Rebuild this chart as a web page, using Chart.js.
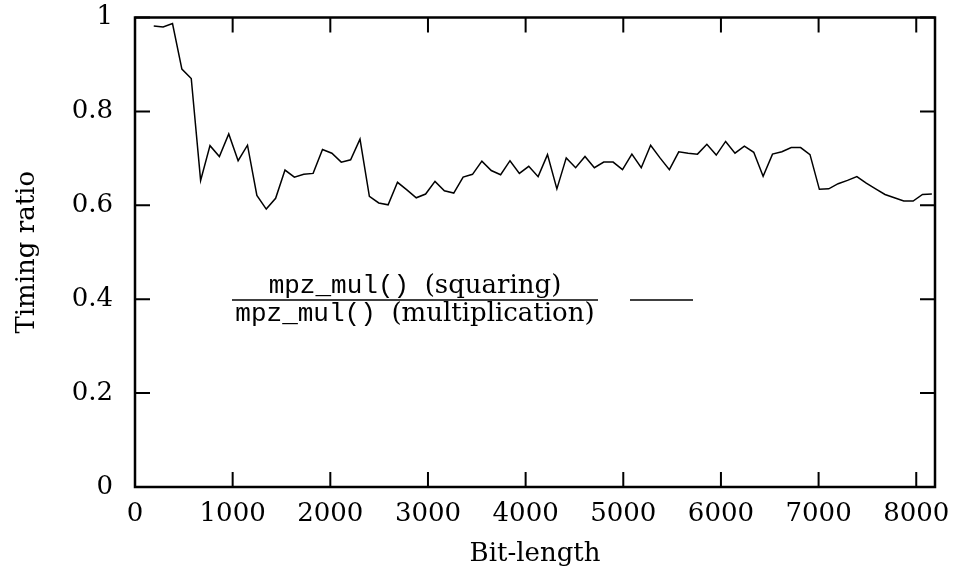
<!DOCTYPE html>
<html>
<head>
<meta charset="utf-8">
<script src="https://cdn.jsdelivr.net/npm/chart.js@4"></script>
<style>
  html, body { margin: 0; padding: 0; background: #fff; }
</style>
</head>
<body>
<canvas id="myChart" width="955" height="570"></canvas>
<script>
const bitLengths = [
  192, 288, 384, 480, 576, 672, 768, 864, 960, 1056, 1152, 1248, 1344, 1440,
  1536, 1632, 1728, 1824, 1920, 2016, 2112, 2208, 2304, 2400, 2496, 2592,
  2688, 2784, 2880, 2976, 3072, 3168, 3264, 3360, 3456, 3552, 3648, 3744,
  3840, 3936, 4032, 4128, 4224, 4320, 4416, 4512, 4608, 4704, 4800, 4896,
  4992, 5088, 5184, 5280, 5376, 5472, 5568, 5664, 5760, 5856, 5952, 6048,
  6144, 6240, 6336, 6432, 6528, 6624, 6720, 6816, 6912, 7008, 7104, 7200,
  7296, 7392, 7488, 7584, 7680, 7776, 7872, 7968, 8064, 8160
];
const timingRatio = [
  0.982, 0.980, 0.987, 0.890, 0.870, 0.653, 0.727, 0.704, 0.752, 0.695, 0.728, 0.621, 0.592, 0.615,
  0.675, 0.660, 0.666, 0.668, 0.719, 0.711, 0.692, 0.697, 0.741, 0.619, 0.605, 0.601,
  0.649, 0.633, 0.616, 0.624, 0.651, 0.631, 0.626, 0.660, 0.666, 0.694, 0.674, 0.665,
  0.695, 0.668, 0.683, 0.661, 0.708, 0.635, 0.701, 0.680, 0.704, 0.680, 0.692, 0.692,
  0.676, 0.709, 0.680, 0.728, 0.701, 0.676, 0.714, 0.711, 0.709, 0.730, 0.707, 0.736,
  0.711, 0.726, 0.713, 0.662, 0.709, 0.714, 0.723, 0.723, 0.708, 0.634, 0.635, 0.646,
  0.653, 0.661, 0.647, 0.635, 0.623, 0.616, 0.609, 0.609, 0.623, 0.624
];
const xTicks = [0, 1000, 2000, 3000, 4000, 5000, 6000, 7000, 8000];
const yTicks = [0, 0.2, 0.4, 0.6, 0.8, 1];

const serif = '"DejaVu Serif", serif';
const mono = '"Liberation Mono", monospace';
const fontSize = 26;

// gnuplot-style frame: box round the plot, ticks pointing inwards on all sides,
// and the fraction-shaped key in the middle
const frame = {
  id: 'frame',
  afterDatasetsDraw(chart) {
    const { ctx, chartArea: a, scales: { x, y } } = chart;
    ctx.save();
    ctx.strokeStyle = '#000';
    ctx.lineWidth = 2;
    ctx.beginPath();
    xTicks.forEach(v => {
      const px = x.getPixelForValue(v);
      ctx.moveTo(px, a.bottom); ctx.lineTo(px, a.bottom - 15);
      ctx.moveTo(px, a.top); ctx.lineTo(px, a.top + 15);
    });
    yTicks.forEach(v => {
      const py = y.getPixelForValue(v);
      ctx.moveTo(a.left, py); ctx.lineTo(a.left + 15, py);
      ctx.moveTo(a.right, py); ctx.lineTo(a.right - 15, py);
    });
    ctx.stroke();
    ctx.lineWidth = 2.5;
    ctx.strokeRect(a.left, a.top, a.right - a.left, a.bottom - a.top);

    // key
    const barL = 232, barR = 598, barY = 300;
    const drawPair = (word, cx, baseY) => {
      ctx.font = fontSize + 'px ' + mono;
      const w1 = ctx.measureText('mpz_mul() ').width;
      ctx.font = fontSize + 'px ' + serif;
      const w2 = ctx.measureText(word).width;
      const sx = cx - (w1 + w2) / 2;
      ctx.textBaseline = 'alphabetic';
      ctx.textAlign = 'left';
      ctx.fillStyle = '#000';
      ctx.font = fontSize + 'px ' + mono;
      ctx.fillText('mpz_mul() ', sx, baseY);
      ctx.font = fontSize + 'px ' + serif;
      ctx.fillText(word, sx + w1, baseY);
    };
    const cx = (barL + barR) / 2;
    drawPair('(squaring)', cx, 293);
    drawPair('(multiplication)', cx, 321);
    ctx.lineWidth = 1.5;
    ctx.beginPath();
    ctx.moveTo(barL, barY); ctx.lineTo(barR, barY);
    ctx.stroke();
    ctx.lineWidth = 1.5;
    ctx.beginPath();
    ctx.moveTo(630, barY); ctx.lineTo(693, barY);
    ctx.stroke();
    ctx.restore();
  }
};

const data = {
  labels: bitLengths,
  datasets: [
    {
      label: 'mpz_mul() (squaring) / mpz_mul() (multiplication)',
      data: bitLengths.map((b, i) => ({ x: b, y: timingRatio[i] })),
      borderColor: '#000',
      borderWidth: 1.5,
      pointRadius: 0,
      tension: 0,
      fill: false
    }
  ]
};

const config = {
  type: 'line',
  data: data,
  options: {
    responsive: false,
    animation: false,
    layout: { padding: { left: 0, right: 20, top: 17.5, bottom: 0 } },
    plugins: {
      legend: { display: false },
      tooltip: { enabled: false }
    },
    scales: {
      x: {
        type: 'linear',
        min: 0,
        max: 8192,
        afterBuildTicks: s => { s.ticks = xTicks.map(v => ({ value: v })); },
        afterFit: s => { s.height = 83; s.paddingLeft = 0; s.paddingRight = 0; },
        grid: { display: false },
        border: { display: false },
        ticks: {
          color: '#000',
          font: { family: serif, size: fontSize },
          padding: 4,
          maxRotation: 0,
          callback: v => String(v)
        },
        title: {
          display: true,
          text: 'Bit-length',
          color: '#000',
          font: { family: serif, size: fontSize },
          padding: { top: 0, bottom: 0 }
        }
      },
      y: {
        min: 0,
        max: 1,
        afterBuildTicks: s => { s.ticks = yTicks.map(v => ({ value: v })); },
        afterFit: s => { s.width = 135; s.paddingTop = 0; s.paddingBottom = 0; },
        grid: { display: false },
        border: { display: false },
        ticks: {
          color: '#000',
          font: { family: serif, size: fontSize },
          padding: 14,
          callback: v => String(v)
        },
        title: {
          display: true,
          text: 'Timing ratio',
          color: '#000',
          font: { family: serif, size: fontSize },
          padding: { top: 12, bottom: 0 }
        }
      }
    }
  },
  plugins: [frame]
};

const myChart = new Chart(document.getElementById('myChart'), config);
</script>
</body>
</html>
